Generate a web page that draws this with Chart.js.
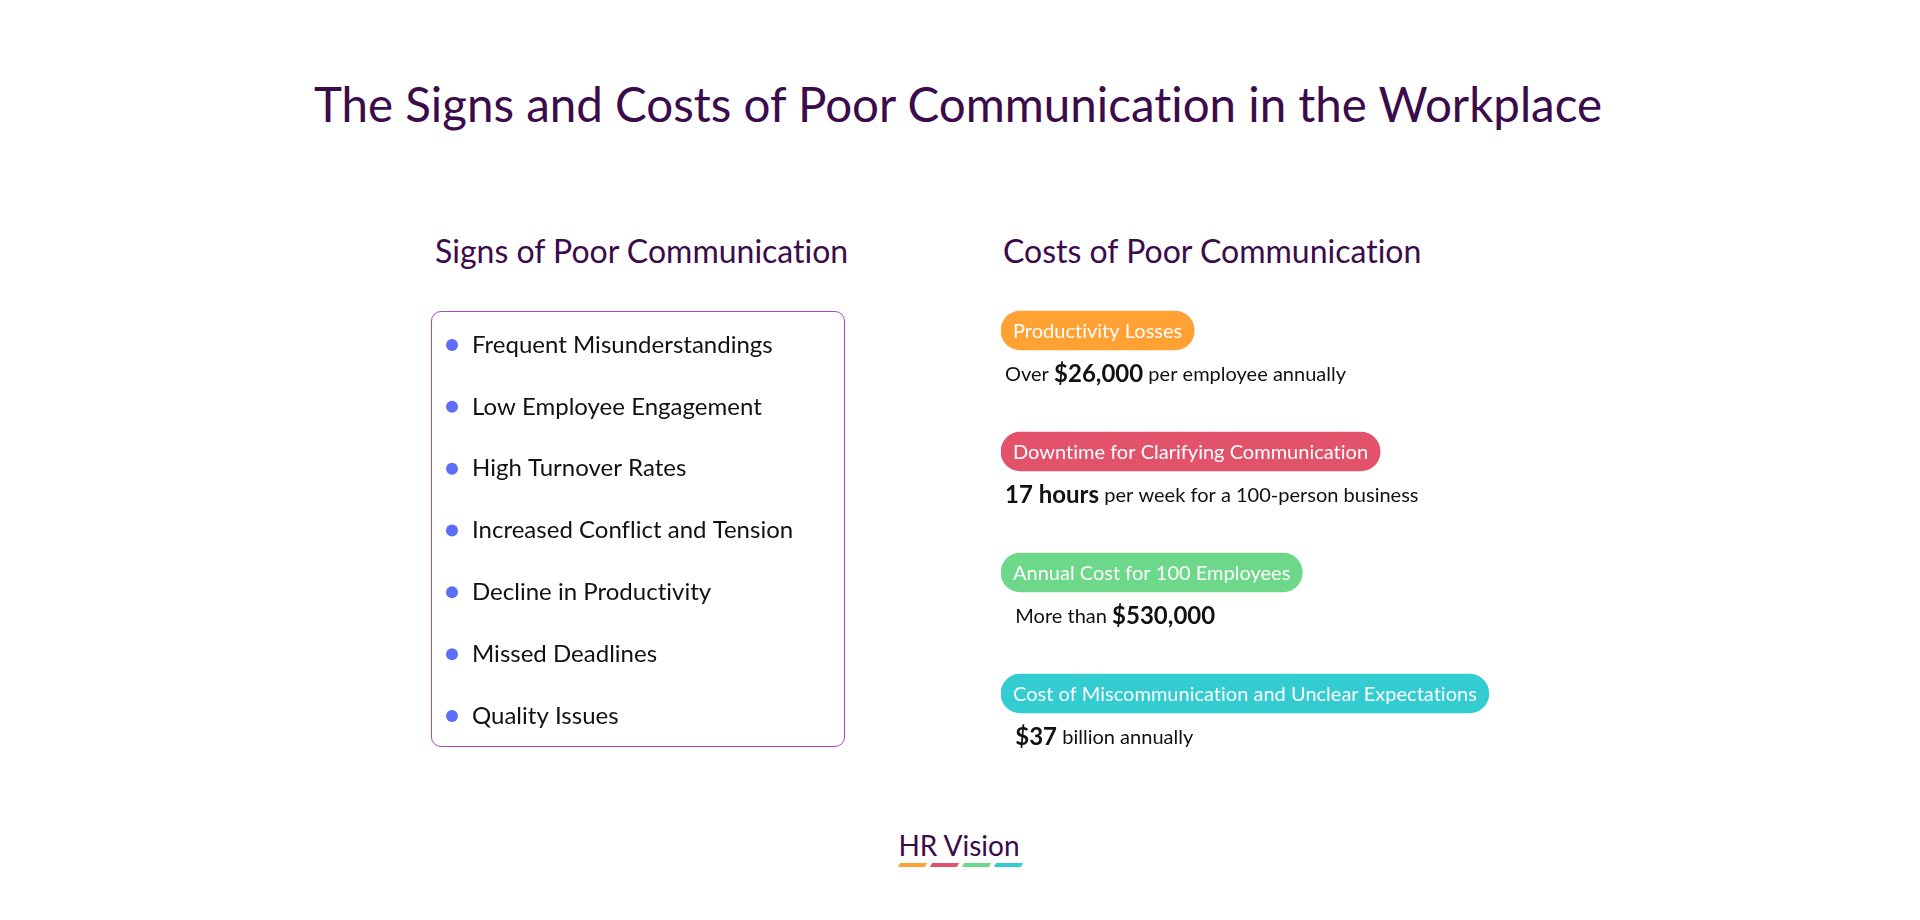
<!DOCTYPE html>
<html>
<head>
<meta charset="utf-8">
<script src="https://cdn.jsdelivr.net/npm/chart.js@4.4.1/dist/chart.umd.min.js"></script>
<style>
  html, body { margin: 0; padding: 0; background: #ffffff; }
  body { width: 1920px; height: 920px; position: relative; overflow: hidden; font-family: Lato, "Open Sans", sans-serif; font-variant-ligatures: no-common-ligatures; font-feature-settings: "liga" 0; }
  .title { position: absolute; left: 0; width: 1916px; top: 80px; text-align: center; font-size: 47.5px; line-height: 1; color: #3b0b4b; }
  .head { position: absolute; top: 235px; font-size: 32px; line-height: 1; color: #3b0b4b; }
  #signsBox { position: absolute; left: 431px; top: 311px; width: 412px; height: 434px; border: 1.5px solid #a845c8; border-radius: 10px; }
  #signsWrap { position: absolute; left: 431px; top: 308px; width: 415px; height: 445px; }
  #costsWrap { position: absolute; left: 1001px; top: 270px; width: 560px; height: 484px; }
  .logo { position: absolute; left: 0; width: 1918px; top: 831px; text-align: center; font-size: 28px; line-height: 1; color: #3b0b4b; }
  .bars { position: absolute; left: 899px; top: 863px; height: 4px; }
  .bars span { position: absolute; top: 0; width: 27px; height: 4px; transform: skewX(-30deg); }
</style>
</head>
<body>
<div class="title">The Signs and Costs of Poor Communication in the Workplace</div>
<div class="head" style="left:435px">Signs of Poor Communication</div>
<div class="head" style="left:1003px">Costs of Poor Communication</div>
<div id="signsBox"></div>
<div id="signsWrap"><canvas id="signsCanvas"></canvas></div>
<div id="costsWrap"><canvas id="costsCanvas"></canvas></div>
<div class="logo">HR Vision</div>
<div class="bars">
  <span style="left:0;background:#ffa133"></span>
  <span style="left:32px;background:#e2536b"></span>
  <span style="left:64px;background:#6dd88a"></span>
  <span style="left:96px;background:#33cdd1"></span>
</div>
<script>
// señales (lista de la izquierda)
const signs = [
  "Frequent Misunderstandings",
  "Low Employee Engagement",
  "High Turnover Rates",
  "Increased Conflict and Tension",
  "Decline in Productivity",
  "Missed Deadlines",
  "Quality Issues"
];

// costes (columna derecha)
const costLabels = [
  "Productivity Losses",
  "Downtime for Clarifying Communication",
  "Annual Cost for 100 Employees",
  "Cost of Miscommunication and Unclear Expectations"
];
const costPrefix = ["Over ", "", "  More than ", "  "];
const costValue = ["$26,000", "17 hours", "$530,000", "$37"];
const costSuffix = [" per employee annually", " per week for a 100-person business", "", " billion annually"];

const pillColors = ["#ffa133", "#e2536b", "#6dd88a", "#33cdd1"];
const FONT = "Lato, 'Open Sans', sans-serif";
const pillFont = "20px " + FONT;
const pillPad = 12;

Chart.defaults.font.family = FONT;
Chart.defaults.animation = false;

// sin ligaduras "ti" en el canvas
const noLigatures = {
  id: "noLigatures",
  beforeDraw(chart) { chart.ctx.letterSpacing = "0.01px"; }
};

// ancho de cada etiqueta, para que la píldora se ajuste al texto
const measureCtx = document.createElement("canvas").getContext("2d");
function textWidth(txt, font) {
  measureCtx.font = font;
  measureCtx.letterSpacing = "0.01px";
  return measureCtx.measureText(txt).width;
}

function drawSigns() {
  const ctx = document.getElementById("signsCanvas").getContext("2d");
  new Chart(ctx, {
    type: "scatter",
    data: {
      datasets: [{
        data: signs.map(s => ({ x: 0, y: s })),
        pointRadius: 6,
        pointHoverRadius: 6,
        backgroundColor: "#5b6ef5",
        borderWidth: 0
      }]
    },
    options: {
      responsive: true,
      maintainAspectRatio: false,
      layout: { padding: { left: 7, top: 1, right: 0, bottom: 0 } },
      plugins: { legend: { display: false }, tooltip: { enabled: false } },
      scales: {
        x: { display: false, min: -1, max: 1 },
        y: {
          type: "category",
          labels: signs,
          offset: true,
          position: "right",
          grid: { display: false, drawTicks: false },
          border: { display: false },
          ticks: { color: "#111111", font: { size: 24 }, padding: 6, crossAlign: "near" },
          afterFit: scale => {
            scale.width = 380;
            scale.paddingTop = 0;
            scale.paddingBottom = 0;
          }
        }
      }
    },
    plugins: [noLigatures]
  });
}

// texto de las píldoras y la línea de valor debajo
const costText = {
  id: "costText",
  afterDatasetsDraw(chart) {
    const c = chart.ctx;
    const meta = chart.getDatasetMeta(0);
    meta.data.forEach((bar, i) => {
      c.save();
      c.letterSpacing = "0.01px";
      c.textBaseline = "middle";
      c.textAlign = "left";
      c.fillStyle = "#ffffff";
      c.font = pillFont;
      c.fillText(costLabels[i], bar.base + pillPad, bar.y + 1);

      let x = chart.chartArea.left + 4;
      const y = bar.y + 44;
      c.fillStyle = "#111111";
      const parts = [
        [costPrefix[i], "20px " + FONT],
        [costValue[i], "bold 24px " + FONT],
        [costSuffix[i], "20px " + FONT]
      ];
      parts.forEach(([t, f]) => {
        if (!t) return;
        c.font = f;
        c.fillText(t, x, y);
        x += c.measureText(t).width;
      });
      c.restore();
    });
  }
};

function drawCosts() {
  const ctx = document.getElementById("costsCanvas").getContext("2d");
  const widths = costLabels.map(t => [0, textWidth(t, pillFont) + pillPad * 2]);
  new Chart(ctx, {
    type: "bar",
    data: {
      labels: costLabels,
      datasets: [{
        data: widths,
        backgroundColor: pillColors,
        borderRadius: 20,
        borderSkipped: false,
        barThickness: 39
      }]
    },
    options: {
      indexAxis: "y",
      responsive: true,
      maintainAspectRatio: false,
      layout: { padding: 0 },
      plugins: { legend: { display: false }, tooltip: { enabled: false } },
      scales: {
        x: { display: false, min: 0, max: 560 },
        y: { display: false, offset: true }
      }
    },
    plugins: [costText]
  });
}

document.addEventListener("DOMContentLoaded", () => {
  drawSigns();
  drawCosts();
});
</script>
</body>
</html>
